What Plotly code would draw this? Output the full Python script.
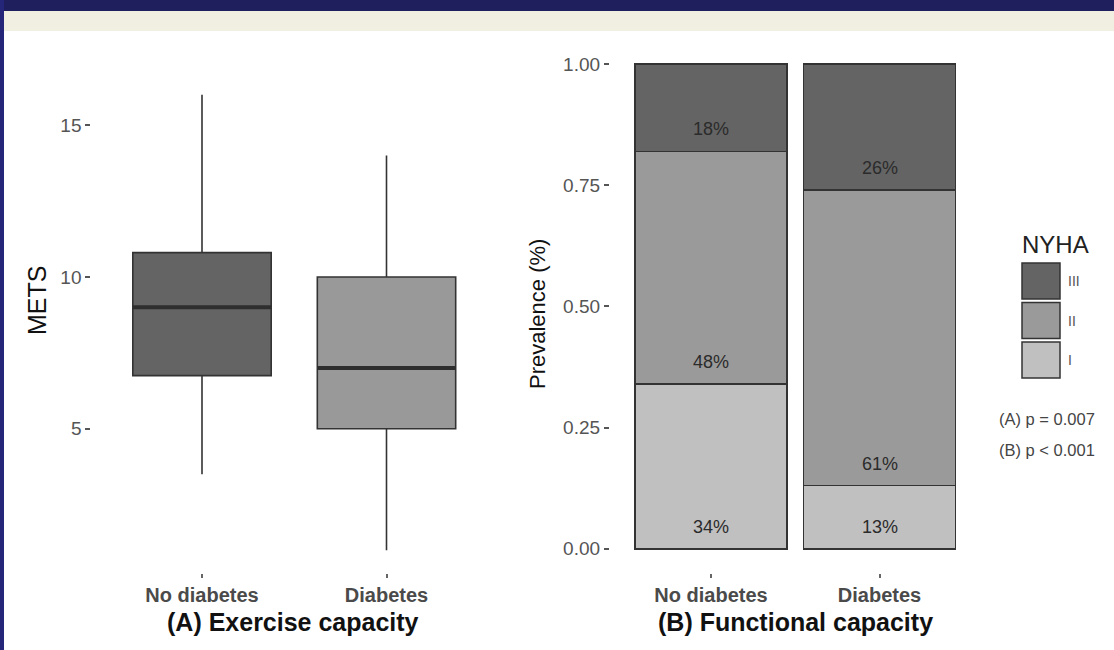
import plotly.graph_objects as go

# ---- data -------------------------------------------------------------
groups = ["No diabetes", "Diabetes"]

# METS box summaries per group
mets_lower = [3.5, 1.0]
mets_q1 = [6.75, 5.0]
mets_median = [9.0, 7.0]
mets_q3 = [10.8, 10.0]
mets_upper = [16.0, 14.0]
box_colors = ["#646464", "#999999"]

# NYHA class prevalence per group (stacked bottom -> top)
nyha_classes = ["I", "II", "III"]
nyha_share = {
    "I": [0.34, 0.13],
    "II": [0.48, 0.61],
    "III": [0.18, 0.26],
}
nyha_colors = {"I": "#c0c0c0", "II": "#9a9a9a", "III": "#646464"}

y1_ticks = [5, 10, 15]
y2_ticks = [0.0, 0.25, 0.50, 0.75, 1.00]
p_values = ["(A) p = 0.007", "(B) p < 0.001"]

# ---- figure geometry (pixels) ----------------------------------------
W, H = 1114, 650
FONT = "Liberation Sans, Arial, Helvetica, sans-serif"
OUTLINE = "#333333"


def px(x):
    return x / W


def py(y):
    return 1 - y / H


def note(x, y, text, size, color, **kw):
    d = dict(x=px(x), y=py(y), xref="paper", yref="paper", text=text,
             showarrow=False, xanchor="center", yanchor="middle",
             font=dict(family=FONT, size=size, color=color))
    d.update(kw)
    return d


fig = go.Figure()

# panel A: exercise capacity boxes
for i, g in enumerate(groups):
    fig.add_trace(go.Box(
        x=[g], q1=[mets_q1[i]], median=[mets_median[i]], q3=[mets_q3[i]],
        lowerfence=[mets_lower[i]], upperfence=[mets_upper[i]],
        fillcolor=box_colors[i], line=dict(color=OUTLINE, width=1.6),
        width=0.75, whiskerwidth=0, boxpoints=False, showlegend=False,
        hoverinfo="skip", xaxis="x", yaxis="y",
    ))
    # thicker median bar
    fig.add_shape(type="line", xref="x", yref="y",
                  x0=i - 0.375, x1=i + 0.375,
                  y0=mets_median[i], y1=mets_median[i],
                  line=dict(color="#2e2e2e", width=4), layer="above")

# panel B: stacked NYHA prevalence bars
base = [0.0 for _ in groups]
annotations = []
for cls in nyha_classes:
    vals = nyha_share[cls]
    fig.add_trace(go.Bar(
        x=groups, y=vals, name=cls, width=0.9,
        marker=dict(color=nyha_colors[cls], line=dict(color=OUTLINE, width=1.5)),
        showlegend=False, hoverinfo="skip", xaxis="x2", yaxis="y2",
    ))
    for j, g in enumerate(groups):
        annotations.append(dict(
            x=g, y=base[j], xref="x2", yref="y2", xanchor="center",
            yanchor="middle", yshift=22, text=f"{round(vals[j] * 100)}%",
            showarrow=False, font=dict(family=FONT, size=18, color="#2b2b2b"),
        ))
        base[j] += vals[j]

# ---- legend drawn as keys ------------------------------------------
key_x0, key_x1 = 1022, 1060
key_tops = [263, 302.5, 342]
key_h = 36
for k, cls in enumerate(reversed(nyha_classes)):
    t = key_tops[k]
    fig.add_shape(type="rect", xref="paper", yref="paper",
                  x0=px(key_x0), x1=px(key_x1), y0=py(t + key_h), y1=py(t),
                  fillcolor=nyha_colors[cls], line=dict(color=OUTLINE, width=1.5))
    annotations.append(note(1066, t + key_h / 2, cls, 14, "#555555",
                            xanchor="left"))
annotations.append(note(1020, 244, "NYHA", 24, "#222222", xanchor="left"))
for k, ptxt in enumerate(p_values):
    annotations.append(note(1047, 419 + 31 * k, ptxt, 16.5, "#444444"))

# ---- axis and panel titles -------------------------------------------
annotations += [
    note(37, 301, "METS", 25, "#111111", textangle=-90),
    note(537, 314, "Prevalence (%)", 22, "#111111", textangle=-90),
    note(293, 622, "<b>(A) Exercise capacity</b>", 25, "#111111"),
    note(795, 622, "<b>(B) Functional capacity</b>", 25, "#111111"),
]

# ---- page frame -------------------------------------------------------
frame = [
    dict(type="rect", xref="paper", yref="paper", x0=0, x1=1, y0=py(31), y1=py(11),
         fillcolor="#f0efe2", line=dict(width=0), layer="below"),
    dict(type="rect", xref="paper", yref="paper", x0=0, x1=1, y0=py(11), y1=1,
         fillcolor="#1f1f5e", line=dict(width=0), layer="below"),
    dict(type="rect", xref="paper", yref="paper", x0=0, x1=px(4), y0=0, y1=1,
         fillcolor="#25257a", line=dict(width=0), layer="below"),
]
for s in frame:
    fig.add_shape(**s)

xtick_font = dict(family=FONT, size=20, color="#4a4a4a", weight="bold")
ytick_font = dict(family=FONT, size=19, color="#555555")
common_x = dict(type="category", categoryorder="array", categoryarray=groups,
                range=[-0.6, 1.6], showgrid=False, zeroline=False, showline=False,
                ticks="outside", ticklen=4, tickwidth=1.5, tickcolor="#666666",
                tickfont=xtick_font, fixedrange=True)
common_y = dict(showgrid=False, zeroline=False, showline=False, ticks="outside",
                ticklen=5, tickwidth=2, tickcolor="#555555", tickfont=ytick_font,
                fixedrange=True)

fig.update_layout(
    width=W, height=H,
    margin=dict(l=0, r=0, t=0, b=0),
    paper_bgcolor="white", plot_bgcolor="white",
    barmode="stack",
    font=dict(family=FONT),
    xaxis=dict(domain=[px(91.3), px(497.2)], anchor="y", **common_x),
    yaxis=dict(domain=[py(573), py(72)], anchor="x", range=[0.25, 16.75],
               tickvals=y1_ticks, ticktext=[str(v) for v in y1_ticks], **common_y),
    xaxis2=dict(domain=[px(609.9), px(980.6)], anchor="y2", **common_x),
    yaxis2=dict(domain=[py(573), py(39.75)], anchor="x2", range=[-0.05, 1.05],
                tickvals=y2_ticks, ticktext=[f"{v:.2f}" for v in y2_ticks], **common_y),
    annotations=annotations,
)

fig.write_html("out.html")
